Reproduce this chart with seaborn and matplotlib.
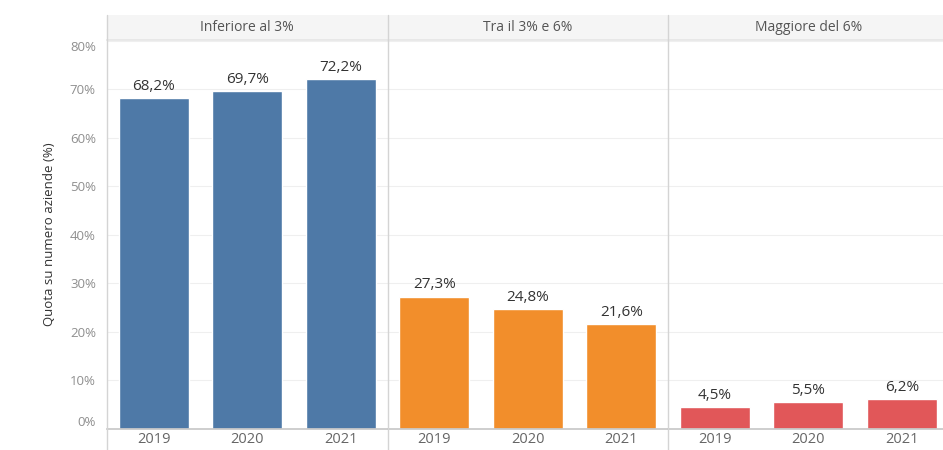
import matplotlib
matplotlib.use("Agg")
import matplotlib.pyplot as plt
from matplotlib.lines import Line2D
import seaborn as sns
import pandas as pd

# Data: share of companies (%) per margin class and year
years = ["2019", "2020", "2021"]
groups = ["Inferiore al 3%", "Tra il 3% e 6%", "Maggiore del 6%"]
inferiore = [68.2, 69.7, 72.2]
tra = [27.3, 24.8, 21.6]
maggiore = [4.5, 5.5, 6.2]
colors = ["#4e79a7", "#f28e2b", "#e15759"]
y_ticks = [0, 10, 20, 30, 40, 50, 60, 70, 80]

series = [inferiore, tra, maggiore]
df = pd.DataFrame({
    "gruppo": [g for g, vals in zip(groups, series) for _ in vals],
    "anno": years * len(groups),
    "quota": [v for vals in series for v in vals],
})

sns.set_theme(style="white")
plt.rcParams["font.family"] = ["Open Sans", "DejaVu Sans"]

W, H = 943, 450
fig = plt.figure(figsize=(W / 100, H / 100), dpi=100)

left_px, panel_w = 107, 280.5
top_px, base_px, head_px = 40, 429, 15
bottom = (H - base_px) / H
height = (base_px - top_px) / H

for i, (g, c) in enumerate(zip(groups, colors)):
    x0 = (left_px + i * panel_w) / W
    ax = fig.add_axes([x0, bottom, panel_w / W, height])
    sub = df[df["gruppo"] == g]
    sns.barplot(data=sub, x="anno", y="quota", color=c, width=0.75,
                saturation=1, ax=ax, order=years)
    ax.set_ylim(0, 80.2)
    ax.set_xlim(-0.5, 2.5)
    ax.set_yticks(y_ticks)
    for t in y_ticks[1:]:
        ax.axhline(t, color="#efefef", lw=0.8, zorder=0)
    ax.set_xlabel("")
    ax.set_ylabel("")
    for s in ["top", "right", "left"]:
        ax.spines[s].set_visible(False)
    ax.spines["bottom"].set_color("#c8c8c8")
    ax.tick_params(axis="x", length=0, labelsize=10.5, labelcolor="#666666", pad=2)
    if i == 0:
        labels = ax.set_yticklabels([f"{t}%" for t in y_ticks])
        labels[0].set_va("bottom")
        labels[-1].set_va("top")
        ax.tick_params(axis="y", length=0, labelsize=9.5, labelcolor="#8f8f8f", pad=8)
        ax.set_ylabel("Quota su numero aziende (%)", fontsize=9.5, color="#333333",
                      labelpad=10)
    else:
        ax.set_yticklabels([])
        ax.tick_params(axis="y", length=0)
    for p, v in zip(ax.patches, series[i]):
        ax.annotate(f"{v:.1f}%".replace(".", ","),
                    (p.get_x() + p.get_width() / 2, p.get_height()),
                    xytext=(0, 3), textcoords="offset points",
                    ha="center", va="bottom", fontsize=11, color="#333333")
    ax.set_facecolor("white")

    # panel header strip
    hx = fig.add_axes([x0, (H - top_px) / H, panel_w / W, (top_px - head_px) / H])
    hx.set_facecolor("#f5f5f5")
    hx.set_xticks([])
    hx.set_yticks([])
    for s in hx.spines.values():
        s.set_visible(False)
    hx.spines["bottom"].set_visible(True)
    hx.spines["bottom"].set_color("#e6e6e6")
    hx.text(0.5, 0.5, g, ha="center", va="center", fontsize=10, color="#555555",
            transform=hx.transAxes)

    # panel divider running from the header down to the lower edge
    fig.add_artist(Line2D([x0, x0], [0, (H - head_px) / H], transform=fig.transFigure,
                          color="#d4d4d4", lw=1.0))

fig.savefig("out.png", dpi=100)
